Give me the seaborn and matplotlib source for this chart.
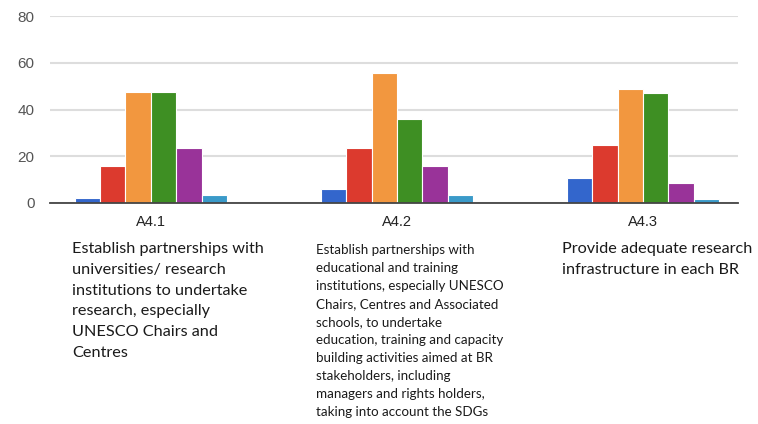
import pandas as pd
import seaborn as sns
import matplotlib.pyplot as plt

# Data
categories = ['A4.1', 'A4.2', 'A4.3']
series = ['S1', 'S2', 'S3', 'S4', 'S5', 'S6']
s1 = [2.3, 5.8, 10.7]
s2 = [15.8, 23.6, 24.6]
s3 = [47.4, 55.8, 48.6]
s4 = [47.4, 35.8, 46.9]
s5 = [23.6, 15.8, 8.5]
s6 = [3.5, 3.5, 1.8]
colors = ['#3366cc', '#dc3a2e', '#f2973f', '#3e8f23', '#993399', '#3a9ac9']
descriptions = [
    "Establish partnerships with\nuniversities/ research\ninstitutions to undertake\n"
    "research, especially\nUNESCO Chairs and\nCentres",
    "Establish partnerships with\neducational and training\ninstitutions, especially UNESCO\n"
    "Chairs, Centres and Associated\nschools, to undertake\neducation, training and capacity\n"
    "building activities aimed at BR\nstakeholders, including\nmanagers and rights holders,\n"
    "taking into account the SDGs",
    "Provide adequate research\ninfrastructure in each BR",
]

rows = []
for name, vals in zip(series, [s1, s2, s3, s4, s5, s6]):
    for cat, v in zip(categories, vals):
        rows.append({'cat': cat, 'series': name, 'value': v})
df = pd.DataFrame(rows)

sns.set_style('white')
plt.rcParams['font.family'] = ['Liberation Sans', 'DejaVu Sans']
W, H = 758, 424
fig = plt.figure(figsize=(W / 100, H / 100), dpi=100)
ax = fig.add_axes([50 / W, 1 - 203 / H, 688 / W, 187 / H])

sns.barplot(data=df, x='cat', y='value', hue='series', palette=colors,
            saturation=1, width=0.62, edgecolor='white', linewidth=0.8,
            legend=False, ax=ax)

ax.set_ylim(0, 80)
ax.set_xlim(-0.41, 2.386)
ax.set_yticks([0, 20, 40, 60, 80])
ax.yaxis.grid(True, color='#dddddd', linewidth=1.5)
ax.set_axisbelow(True)
for s in ['top', 'right', 'left']:
    ax.spines[s].set_visible(False)
ax.spines['bottom'].set_color('#444444')
ax.spines['bottom'].set_linewidth(1.3)
ax.spines['bottom'].set_zorder(5)
ax.tick_params(axis='y', length=0, pad=11, labelsize=11, labelcolor='#555555')
ax.tick_params(axis='x', length=0, pad=9, labelsize=10.5, labelcolor='#222222')
ax.set_xlabel('')
ax.set_ylabel('')

# Long descriptions under each group
fig.text(72 / W, 1 - 242 / H, descriptions[0], fontsize=11.7, family='Lato',
         color='#1a1a1a', va='top', ha='left', linespacing=1.62)
fig.text(316 / W, 1 - 244 / H, descriptions[1], fontsize=9.6, family='Lato',
         color='#1a1a1a', va='top', ha='left', linespacing=1.6)
fig.text(562 / W, 1 - 242 / H, descriptions[2], fontsize=11.7, family='Lato',
         color='#1a1a1a', va='top', ha='left', linespacing=1.62)

fig.savefig('out.png', dpi=100)
